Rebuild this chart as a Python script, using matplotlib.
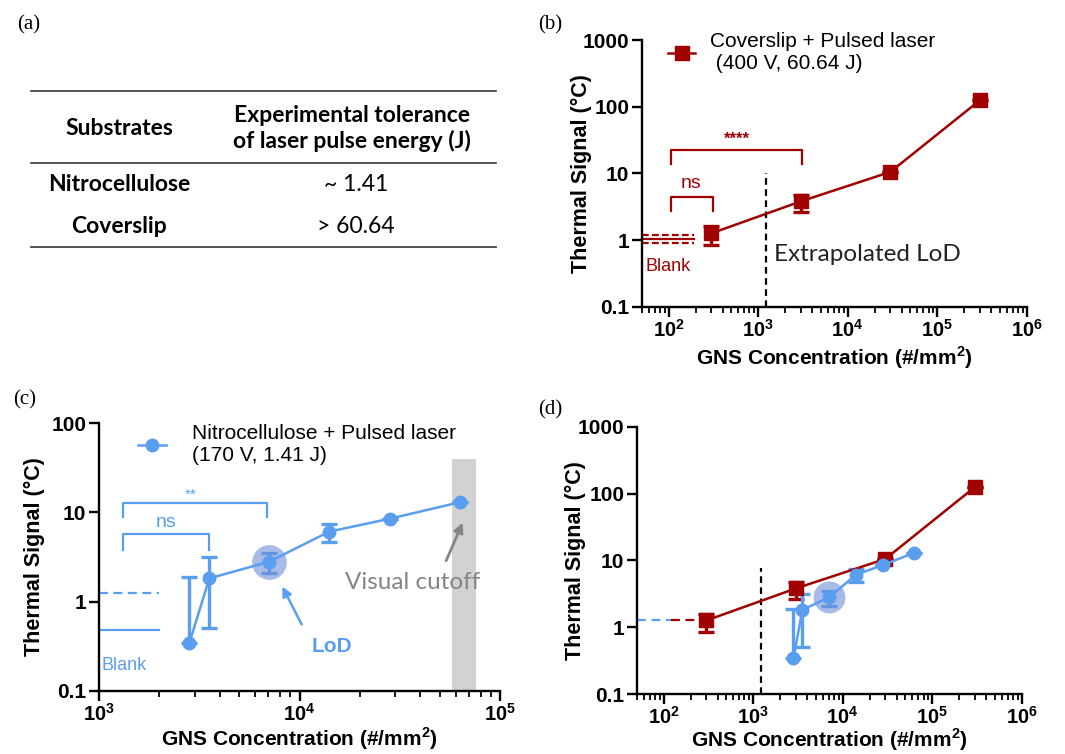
import math
import matplotlib
matplotlib.use('Agg')
import matplotlib.pyplot as plt
from matplotlib.lines import Line2D
from matplotlib.ticker import LogLocator, FixedLocator, NullLocator, FuncFormatter

plt.rcParams['font.family'] = ['Liberation Sans', 'DejaVu Sans']
plt.rcParams['mathtext.fontset'] = 'custom'
plt.rcParams['mathtext.rm'] = 'Liberation Sans'
plt.rcParams['mathtext.bf'] = 'Liberation Sans:bold'

RED = '#a00000'
BLUE = '#5a9ef0'
CALIBRI = ['Lato', 'DejaVu Sans']

# coverslip data (panel b, d)
cov_x = [300, 3000, 30000, 300000]
cov_y = [1.26, 3.8, 10.5, 125]
cov_hi = [1.6, 4.7, 10.5, 125]
cov_lo = [0.85, 2.6, 10.5, 125]
cov_blank = 1.02
cov_blank_band = [0.89, 1.19]

# nitrocellulose data (panel c, d)
nit_x = [2820, 3550, 7060, 14100, 28200, 63000]
nit_y = [0.34, 1.82, 2.8, 6.1, 8.5, 13]
nit_hi = [1.9, 3.18, 3.47, 7.4, 8.5, 13]
nit_lo = [0.34, 0.50, 2.1, 4.7, 8.5, 13]
nit_blank = 0.48
nit_blank_sd = 1.26
nit_lod = 7060
cutoff_band = [57400, 75700]
cutoff_top = 40

lod_x_b = 1220
lod_x_d = 1230

# table (a)
tbl_header = ['Substrates', 'Experimental tolerance\nof laser pulse energy (J)']
tbl_rows = [['Nitrocellulose', '~ 1.41'], ['Coverslip', '> 60.64']]

W, H = 1065, 754
fig = plt.figure(figsize=(W / 100, H / 100), dpi=100)


def fx(p):
    return p / W


def fy(p):
    return 1 - p / H


def style_ax(ax, xlim, ylim, yticks, xlab_y, ylab_x):
    ax.set_xscale('log')
    ax.set_yscale('log')
    ax.set_xlim(*xlim)
    ax.set_ylim(*ylim)
    for s in ['top', 'right']:
        ax.spines[s].set_visible(False)
    for s in ['left', 'bottom']:
        ax.spines[s].set_linewidth(1.7)
    ax.xaxis.set_major_locator(LogLocator(base=10, numticks=10))
    ax.xaxis.set_minor_locator(LogLocator(base=10, subs=range(2, 10), numticks=20))
    ax.xaxis.set_major_formatter(FuncFormatter(lambda v, p: r'$\mathbf{10^{%d}}$' % round(math.log10(v))))
    ax.yaxis.set_major_locator(FixedLocator(yticks))
    ax.yaxis.set_minor_locator(NullLocator())
    ax.set_yticklabels([('%g' % t) for t in yticks], fontweight='bold')
    ax.tick_params(which='major', length=7, width=1.7, labelsize=15, direction='out')
    ax.tick_params(axis='x', which='major', pad=1.5, labelsize=14.5)
    ax.tick_params(axis='y', which='major', pad=2)
    ax.tick_params(which='minor', length=4, width=1.3)
    ax.set_xlabel(r'GNS Concentration (#/mm$^{\mathbf{2}}$)', fontsize=15, fontweight='bold', va='center')
    ax.set_ylabel('Thermal Signal (°C)', fontsize=15.5, fontweight='bold', va='center')
    ax.xaxis.set_label_coords(0.5, xlab_y)
    ax.yaxis.set_label_coords(ylab_x, 0.5)


def err(y, lo, hi):
    return [[a - b for a, b in zip(y, lo)], [b - a for a, b in zip(y, hi)]]


# ---- (a) table ----
fig.text(fx(17), fy(25), '(a)', family='Liberation Serif', fontsize=15, va='center')
for yy in [90.7, 163.3, 246.7]:
    fig.add_artist(Line2D([fx(31), fx(495.7)], [fy(yy), fy(yy)], color='#333333', lw=1.2))
fig.text(fx(119), fy(128.3), tbl_header[0], family=CALIBRI, fontweight='bold', fontsize=16.5, ha='center', va='center')
fig.text(fx(351.7), fy(128.3), tbl_header[1], family=CALIBRI, fontweight='bold', fontsize=16.5, ha='center', va='center', linespacing=1.2)
for (name, val), yy in zip(tbl_rows, [184.3, 226.7]):
    fig.text(fx(119), fy(yy), name, family=CALIBRI, fontweight='bold', fontsize=16.5, ha='center', va='center')
    fig.text(fx(356), fy(yy), val, family=CALIBRI, fontsize=16.5, ha='center', va='center')

# ---- (b) coverslip ----
axb = fig.add_axes([fx(641.7), fy(306.7), fx(385), 266.7 / H])
style_ax(axb, (50, 1e6), (0.1, 1000), [0.1, 1, 10, 100, 1000], -0.192, -0.156)
axb.errorbar(cov_x, cov_y, yerr=err(cov_y, cov_lo, cov_hi), color=RED, marker='s', ms=9.5,
             lw=1.8, elinewidth=2.4, capsize=5.5, capthick=2.4)
axb.plot([50, 190], [cov_blank, cov_blank], color=RED, lw=1.6)
for v in cov_blank_band:
    axb.plot([50, 190], [v, v], color=RED, lw=1.6, ls=(0, (3, 1.5)))
axb.text(55, 0.4, 'Blank', color=RED, fontsize=13, va='center')
axb.plot([lod_x_b, lod_x_b], [0.1, 10], color='black', lw=1.6, ls=(0, (3, 2)))
axb.text(1510, 0.6, 'Extrapolated LoD', family=CALIBRI, fontsize=17.5, va='center', color='#222222')
# significance brackets
axb.plot([107, 107, 315, 315], [2.75, 4.47, 4.47, 2.75], color=RED, lw=1.6)
axb.text(180, 7.1, 'ns', color=RED, fontsize=14, ha='center', va='center')
axb.plot([107, 107, 3090, 3090], [13.6, 22.4, 22.4, 13.6], color=RED, lw=1.6)
axb.text(575, 33, '****', color=RED, fontsize=12, ha='center', va='center', fontweight='bold')
hb = Line2D([], [], color=RED, marker='s', ms=9.5, lw=1.8)
axb.legend(handles=[hb], labels=['Coverslip + Pulsed laser\n (400 V, 60.64 J)'], loc='upper left',
           bbox_to_anchor=(0.02, 1.099), frameon=False, fontsize=15, handlelength=1.3, handletextpad=0.72)
fig.text(fx(538), fy(25), '(b)', family='Liberation Serif', fontsize=15, va='center')

# ---- (c) nitrocellulose ----
axc = fig.add_axes([fx(99), fy(690.7), fx(401), 267.4 / H])
style_ax(axc, (1e3, 1e5), (0.1, 100), [0.1, 1, 10, 100], -0.18, -0.16)
axc.fill_between(cutoff_band, [0.1, 0.1], [cutoff_top, cutoff_top], color='#d2d2d2', lw=0, zorder=0)
axc.errorbar(nit_x, nit_y, yerr=err(nit_y, nit_lo, nit_hi), color=BLUE, marker='o', ms=9,
             lw=1.8, elinewidth=2.4, capsize=5.5, capthick=2.4)
i = nit_x.index(nit_lod)
axc.plot([nit_x[i]], [nit_y[i]], 'o', ms=25, color='#6f8fd6', alpha=0.6, mec='none')
axc.plot([1000, 2000], [nit_blank_sd, nit_blank_sd], color=BLUE, lw=1.6, ls=(0, (4, 2.5)))
axc.plot([1000, 2000], [nit_blank, nit_blank], color=BLUE, lw=1.6)
axc.text(1030, 0.19, 'Blank', color=BLUE, fontsize=13, va='center')
axc.plot([1320, 1320, 3550, 3550], [3.8, 5.7, 5.7, 3.8], color=BLUE, lw=1.6)
axc.text(2170, 7.7, 'ns', color=BLUE, fontsize=14, ha='center', va='center')
axc.plot([1320, 1320, 6900, 6900], [8.8, 12.9, 12.9, 8.8], color=BLUE, lw=1.6)
axc.text(2850, 15.6, '**', color=BLUE, fontsize=11, ha='center', va='center')
axc.annotate('', xy=(8090, 1.57), xytext=(10400, 0.52),
             arrowprops=dict(arrowstyle='-|>', color=BLUE, lw=1.8, mutation_scale=14))
axc.text(11500, 0.31, 'LoD', color=BLUE, fontsize=15, fontweight='bold', va='center')
axc.annotate('', xy=(66000, 8.2), xytext=(53200, 2.69),
             arrowprops=dict(arrowstyle='-|>', color='#858585', lw=2, mutation_scale=14))
axc.text(36600, 1.64, 'Visual cutoff', family=CALIBRI, fontsize=17.5, color='#858585', ha='center', va='center')
hc = Line2D([], [], color=BLUE, marker='o', ms=9, lw=1.8)
axc.legend(handles=[hc], labels=['Nitrocellulose + Pulsed laser\n(170 V, 1.41 J)'], loc='upper left',
           bbox_to_anchor=(0.051, 1.068), frameon=False, fontsize=15, handlelength=1.35, handletextpad=1.25)
fig.text(fx(13), fy(400), '(c)', family='Liberation Serif', fontsize=15, va='center')

# ---- (d) combined ----
axd = fig.add_axes([fx(636.7), fy(694), fx(385), 267.3 / H])
style_ax(axd, (50, 1e6), (0.1, 1000), [0.1, 1, 10, 100, 1000], -0.17, -0.16)
axd.plot([50, 120], [nit_blank_sd, nit_blank_sd], color=BLUE, lw=1.6, ls=(0, (4, 2.5)))
axd.plot([120, 300], [nit_blank_sd, nit_blank_sd], color=RED, lw=1.6, ls=(0, (4, 2.5)))
axd.plot([lod_x_d, lod_x_d], [0.1, 7.6], color='black', lw=1.6, ls=(0, (3, 2)))
axd.errorbar(cov_x, cov_y, yerr=err(cov_y, cov_lo, cov_hi), color=RED, marker='s', ms=9.5,
             lw=1.8, elinewidth=2.4, capsize=5.5, capthick=2.4)
axd.errorbar(nit_x, nit_y, yerr=err(nit_y, nit_lo, nit_hi), color=BLUE, marker='o', ms=9,
             lw=1.8, elinewidth=2.4, capsize=5.5, capthick=2.4)
axd.plot([nit_x[i]], [nit_y[i]], 'o', ms=23, color='#6f8fd6', alpha=0.6, mec='none')
fig.text(fx(538), fy(410), '(d)', family='Liberation Serif', fontsize=15, va='center')

fig.savefig('out.png', dpi=100)
